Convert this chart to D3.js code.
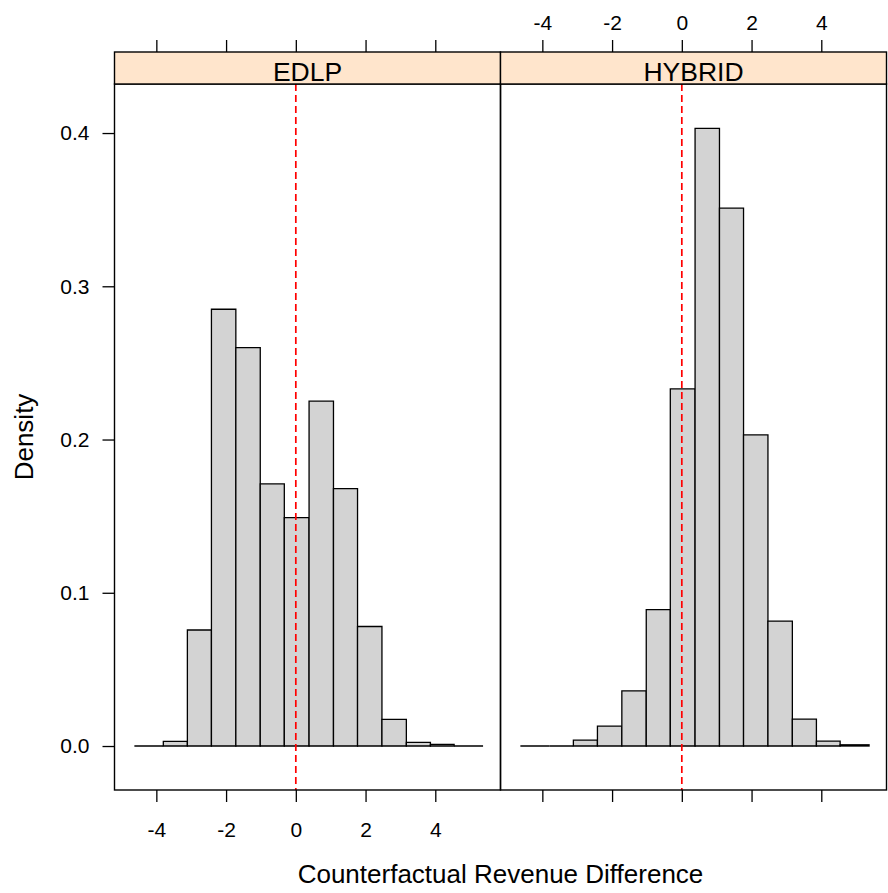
<!DOCTYPE html>
<html>
<head>
<meta charset="utf-8">
<script src="https://cdn.jsdelivr.net/npm/d3@7"></script>
<style>
  html, body { margin: 0; padding: 0; background: #fff; }
  svg { display: block; font-family: "Liberation Sans", Arial, Helvetica, sans-serif; }
</style>
</head>
<body>
<script>
// Histogram panels: one per pricing strategy
const panels = ["EDLP", "HYBRID"];

// Shared bin breaks (revenue difference)
const breaks = [-4.63, -3.80, -3.11, -2.42, -1.72, -1.02, -0.33, 0.38, 1.08, 1.77, 2.47, 3.17, 3.86, 4.54, 5.37];

// Density per bin
const edlpDensity   = [0, 0.003, 0.0757, 0.285, 0.260, 0.171, 0.149, 0.225, 0.168, 0.078, 0.0174, 0.0024, 0.0011, 0];
const hybridDensity = [0, 0, 0.0039, 0.013, 0.036, 0.089, 0.233, 0.403, 0.351, 0.203, 0.0815, 0.0176, 0.0032, 0.0008];

// Axis ticks
const xTicks = [-4, -2, 0, 2, 4];
const xTickLabels = ["-4", "-2", "0", "2", "4"];
const yTicks = [0, 0.1, 0.2, 0.3, 0.4];
const yTickLabels = ["0.0", "0.1", "0.2", "0.3", "0.4"];

// Reference line
const refValue = 0;

const xLabel = "Counterfactual Revenue Difference";
const yLabel = "Density";

const densities = { EDLP: edlpDensity, HYBRID: hybridDensity };

const W = 888, H = 893;
const panelTop = 84, panelBottom = 790, stripTop = 52;
const panelLeft = 114.5, panelWidth = 386;
const tickLen = 12;

const svg = d3.select("body").append("svg")
  .attr("width", W).attr("height", H);

const y = d3.scaleLinear().domain([-0.0287, 0.432]).range([panelBottom, panelTop]);

panels.forEach((name, i) => {
  const x0 = panelLeft + i * panelWidth;
  const x = d3.scaleLinear().domain([-5.2, 5.87]).range([x0, x0 + panelWidth]);
  const g = svg.append("g");

  // bars (drawn as paths so empty bins still show their baseline)
  const bins = densities[name].map((d, k) => ({ a: breaks[k], b: breaks[k + 1], d }));
  g.selectAll("path.bar").data(bins).enter().append("path")
    .attr("class", "bar")
    .attr("d", b => {
      const xa = x(b.a), xb = x(b.b), ya = y(0), yb = y(b.d);
      return `M${xa},${ya}H${xb}V${yb}H${xa}Z`;
    })
    .attr("fill", "#d3d3d3")
    .attr("stroke", "#000")
    .attr("stroke-width", 1.3);

  // dashed reference line
  g.append("line")
    .attr("x1", x(refValue)).attr("x2", x(refValue))
    .attr("y1", panelTop).attr("y2", panelBottom)
    .attr("stroke", "#ff0000").attr("stroke-width", 1.7)
    .attr("stroke-dasharray", "7,4");

  // panel border
  g.append("rect")
    .attr("x", x0).attr("y", panelTop)
    .attr("width", panelWidth).attr("height", panelBottom - panelTop)
    .attr("fill", "none").attr("stroke", "#000").attr("stroke-width", 1.4);

  // strip
  g.append("rect")
    .attr("x", x0).attr("y", stripTop)
    .attr("width", panelWidth).attr("height", panelTop - stripTop)
    .attr("fill", "#ffe5cc").attr("stroke", "#000").attr("stroke-width", 1.4);
  g.append("text")
    .attr("x", x0 + panelWidth / 2).attr("y", 81)
    .attr("text-anchor", "middle")
    .attr("font-size", 26.5)
    .text(name);

  // x axes: labels at bottom on first panel, at top on second
  const fmt = d => xTickLabels[xTicks.indexOf(d)];
  const bottomAxis = d3.axisBottom(x).tickValues(xTicks).tickSize(tickLen).tickSizeOuter(0)
    .tickFormat(i === 0 ? fmt : () => "");
  const topAxis = d3.axisTop(x).tickValues(xTicks).tickSize(tickLen).tickSizeOuter(0)
    .tickFormat(i === 1 ? fmt : () => "");

  const ba = g.append("g").attr("transform", `translate(0,${panelBottom})`).call(bottomAxis);
  const ta = g.append("g").attr("transform", `translate(0,${stripTop})`).call(topAxis);
  [ba, ta].forEach(a => {
    a.select(".domain").remove();
    a.selectAll("line").attr("stroke", "#000").attr("stroke-width", 1.3);
    a.selectAll("text").attr("font-size", 21).attr("fill", "#000")
      .attr("font-family", "Liberation Sans, Arial, sans-serif");
  });
  ba.selectAll("text").attr("dy", null).attr("y", 47);
  ta.selectAll("text").attr("y", -22);
});

// y axis on the left panel
const ya = svg.append("g").attr("transform", `translate(${panelLeft},0)`)
  .call(d3.axisLeft(y).tickValues(yTicks).tickSize(tickLen).tickSizeOuter(0)
    .tickFormat((d, k) => yTickLabels[k]));
ya.select(".domain").remove();
ya.selectAll("line").attr("stroke", "#000").attr("stroke-width", 1.3);
ya.selectAll("text").attr("font-size", 21).attr("fill", "#000")
  .attr("font-family", "Liberation Sans, Arial, sans-serif")
  .attr("x", -25);

// axis titles
svg.append("text")
  .attr("x", panelLeft + panelWidth).attr("y", 883)
  .attr("text-anchor", "middle").attr("font-size", 26)
  .text(xLabel);
svg.append("text")
  .attr("transform", `translate(33,${(panelTop + panelBottom) / 2}) rotate(-90)`)
  .attr("text-anchor", "middle").attr("font-size", 26)
  .text(yLabel);
</script>
</body>
</html>
